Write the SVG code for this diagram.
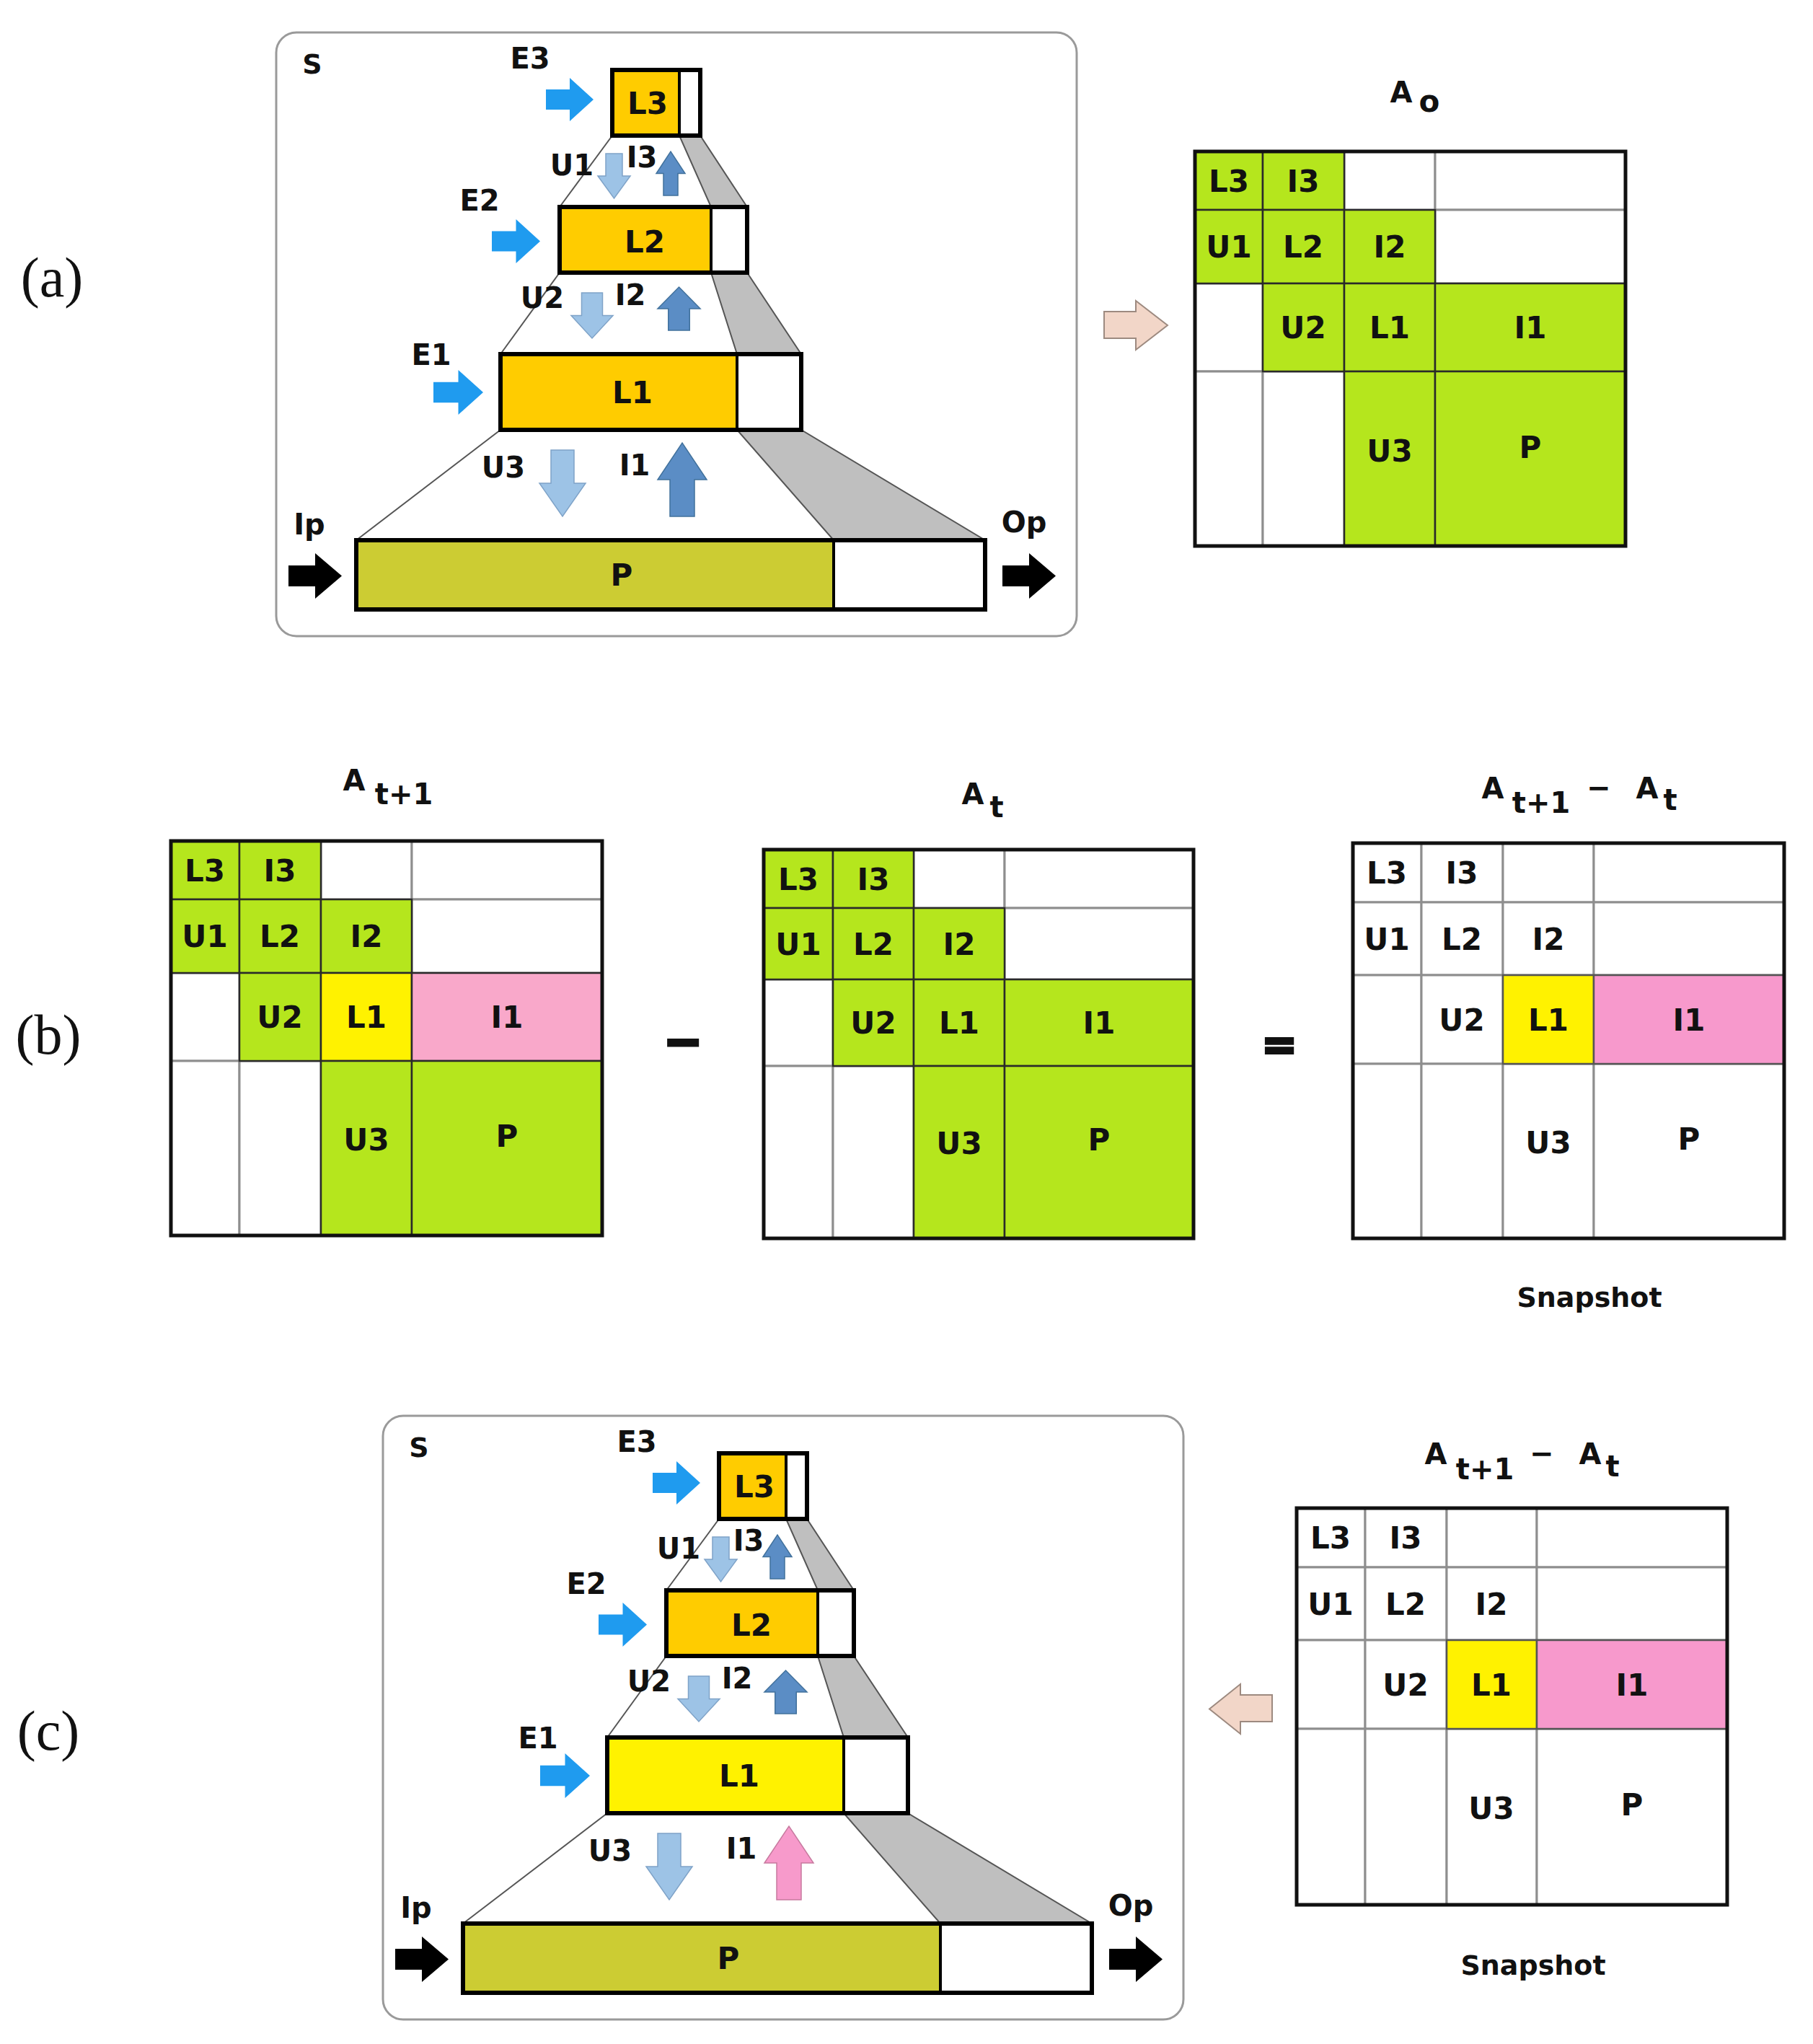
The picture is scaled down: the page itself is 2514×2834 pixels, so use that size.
<svg xmlns="http://www.w3.org/2000/svg" width="2514" height="2834" viewBox="0 0 2514 2834">
<style>
.t{font-family:"DejaVu Sans",Verdana,sans-serif;font-weight:bold;fill:#111;text-anchor:middle}
.s38{font-size:38px}
.s40{font-size:40px}
.s42{font-size:42px}
.s36{font-size:37px}
.pl{font-family:"Liberation Serif","Times New Roman",serif;font-size:78px;fill:#111;text-anchor:middle}
.frame{fill:#fff;stroke:#9a9a9a;stroke-width:3}
.band{fill:#bfbfbf;stroke:#555;stroke-width:2}
.edge{stroke:#555;stroke-width:2}
.gold{fill:#ffcc00}
.yel{fill:#fff200}
.olive{fill:#cccc33}
.wh{fill:#fff}
.box{fill:none;stroke:#000;stroke-width:6}
.div{stroke:#000;stroke-width:4}
.eA{fill:#1f9bef}
.bk{fill:#000}
.dn{fill:#9dc3e6;stroke:#7fa3c8;stroke-width:1.5}
.up{fill:#5b8dc5;stroke:#41719c;stroke-width:1.5}
.upk{fill:#f79acb;stroke:#c77a9f;stroke-width:1.5}
.beige{fill:#f2d6c8;stroke:#9d8a80;stroke-width:2}
.cw{fill:#fff;stroke:#8e8e8e;stroke-width:3}
.cg{fill:#b5e61d;stroke:#2a2a2a;stroke-width:2.5}
.cy{fill:#fff200;stroke:#2a2a2a;stroke-width:2.5}
.cp{fill:#f9a8ca;stroke:#2a2a2a;stroke-width:2.5}
.cp2{fill:#f799cc;stroke:#555;stroke-width:2.5}
.cy2{fill:#fff200;stroke:#555;stroke-width:2.5}
.outer{fill:none;stroke:#111;stroke-width:5}
</style>

<!-- Panel labels -->
<text class="pl" x="72" y="411">(a)</text>
<text class="pl" x="67" y="1461">(b)</text>
<text class="pl" x="67" y="2426">(c)</text>

<!-- ===== Panel (a) pyramid ===== -->
<g id="panel-a">
  <rect id="a-frame" class="frame" x="383" y="45" width="1110" height="837" rx="28"/>
  <text class="t s38" x="433" y="102">S</text>
  <polygon class="band" points="942,188 971,188 1036,287 986,287"/>
  <polygon class="band" points="986,378 1036,378 1111,491 1022,491"/>
  <polygon class="band" points="1022,596 1111,596 1366,749 1156,749"/>
  <line class="edge" x1="849" y1="188" x2="776" y2="287"/>
  <line class="edge" x1="776" y1="378" x2="694" y2="491"/>
  <line class="edge" x1="694" y1="596" x2="494" y2="749"/>
  <g id="a-L3">
    <rect class="gold" x="849" y="97" width="93" height="91"/>
    <rect class="wh" x="942" y="97" width="29" height="91"/>
    <line class="div" x1="942" y1="97" x2="942" y2="188"/>
    <rect class="box" x="849" y="97" width="122" height="91"/>
    <text class="t s42" x="898" y="158">L3</text>
  </g>
  <g id="a-L2">
    <rect class="gold" x="776" y="287" width="210" height="91"/>
    <rect class="wh" x="986" y="287" width="50" height="91"/>
    <line class="div" x1="986" y1="287" x2="986" y2="378"/>
    <rect class="box" x="776" y="287" width="260" height="91"/>
    <text class="t s42" x="894" y="350">L2</text>
  </g>
  <g id="a-L1">
    <rect class="gold" x="694" y="491" width="328" height="105"/>
    <rect class="wh" x="1022" y="491" width="89" height="105"/>
    <line class="div" x1="1022" y1="491" x2="1022" y2="596"/>
    <rect class="box" x="694" y="491" width="417" height="105"/>
    <text class="t s42" x="877" y="559">L1</text>
  </g>
  <g id="a-P">
    <rect class="olive" x="494" y="749" width="662" height="96"/>
    <rect class="wh" x="1156" y="749" width="210" height="96"/>
    <line class="div" x1="1156" y1="749" x2="1156" y2="845"/>
    <rect class="box" x="494" y="749" width="872" height="96"/>
    <text class="t s42" x="862" y="812">P</text>
  </g>
  <g id="a-labels" class="t s40">
    <text x="735" y="95">E3</text>
    <text x="665" y="292">E2</text>
    <text x="598" y="506">E1</text>
    <text x="793" y="243">U1</text>
    <text x="890" y="232">I3</text>
    <text x="752" y="427">U2</text>
    <text x="874" y="423">I2</text>
    <text x="698" y="662">U3</text>
    <text x="880" y="659">I1</text>
    <text x="429" y="741">Ip</text>
    <text x="1420" y="738">Op</text>
  </g>
</g>

<!-- ===== Panel (a) matrix A0 ===== -->
<g id="matrix-A0">
  <text class="t s40" x="1943" y="142">A</text>
  <text class="t s42" x="1982" y="155">o</text>
  <rect class="cw" x="1864" y="210" width="126" height="81"/>
  <rect class="cw" x="1990" y="210" width="264" height="81"/>
  <rect class="cw" x="1990" y="291" width="264" height="102"/>
  <rect class="cw" x="1657" y="393" width="94" height="122"/>
  <rect class="cw" x="1657" y="515" width="94" height="242"/>
  <rect class="cw" x="1751" y="515" width="113" height="242"/>
  <rect class="cg" x="1657" y="210" width="94" height="81"/>
  <rect class="cg" x="1751" y="210" width="113" height="81"/>
  <rect class="cg" x="1657" y="291" width="94" height="102"/>
  <rect class="cg" x="1751" y="291" width="113" height="102"/>
  <rect class="cg" x="1864" y="291" width="126" height="102"/>
  <rect class="cg" x="1751" y="393" width="113" height="122"/>
  <rect class="cg" x="1864" y="393" width="126" height="122"/>
  <rect class="cg" x="1990" y="393" width="264" height="122"/>
  <rect class="cg" x="1864" y="515" width="126" height="242"/>
  <rect class="cg" x="1990" y="515" width="264" height="242"/>
  <rect class="outer" x="1657" y="210" width="597" height="547"/>
  <g class="t s42">
    <text x="1704" y="266">L3</text><text x="1807" y="266">I3</text>
    <text x="1704" y="357">U1</text><text x="1807" y="357">L2</text><text x="1927" y="357">I2</text>
    <text x="1807" y="469">U2</text><text x="1927" y="469">L1</text><text x="2122" y="469">I1</text>
    <text x="1927" y="640">U3</text><text x="2122" y="635">P</text>
  </g>
</g>

<!-- ===== Panel (b) ===== -->
<g id="matrix-At1">
  <text class="t s40" x="491" y="1096">A</text>
  <text class="t s40" x="560" y="1115">t+1</text>
  <rect class="cw" x="445" y="1166" width="126" height="81"/>
  <rect class="cw" x="571" y="1166" width="264" height="81"/>
  <rect class="cw" x="571" y="1247" width="264" height="102"/>
  <rect class="cw" x="237" y="1349" width="95" height="122"/>
  <rect class="cw" x="237" y="1471" width="95" height="242"/>
  <rect class="cw" x="332" y="1471" width="113" height="242"/>
  <rect class="cg" x="237" y="1166" width="95" height="81"/>
  <rect class="cg" x="332" y="1166" width="113" height="81"/>
  <rect class="cg" x="237" y="1247" width="95" height="102"/>
  <rect class="cg" x="332" y="1247" width="113" height="102"/>
  <rect class="cg" x="445" y="1247" width="126" height="102"/>
  <rect class="cg" x="332" y="1349" width="113" height="122"/>
  <rect class="cy" x="445" y="1349" width="126" height="122"/>
  <rect class="cp" x="571" y="1349" width="264" height="122"/>
  <rect class="cg" x="445" y="1471" width="126" height="242"/>
  <rect class="cg" x="571" y="1471" width="264" height="242"/>
  <rect class="outer" x="237" y="1166" width="598" height="547"/>
  <g class="t s42">
    <text x="284" y="1222">L3</text><text x="388" y="1222">I3</text>
    <text x="284" y="1313">U1</text><text x="388" y="1313">L2</text><text x="508" y="1313">I2</text>
    <text x="388" y="1425">U2</text><text x="508" y="1425">L1</text><text x="703" y="1425">I1</text>
    <text x="508" y="1595">U3</text><text x="703" y="1590">P</text>
  </g>
</g>

<text id="op-minus" class="t" x="947" y="1466" style="font-size:64px;stroke:#111;stroke-width:4">−</text>

<g id="matrix-At">
  <text class="t s40" x="1349" y="1115">A</text>
  <text class="t s40" x="1382" y="1133">t</text>
  <rect class="cw" x="1267" y="1178" width="126" height="81"/>
  <rect class="cw" x="1393" y="1178" width="262" height="81"/>
  <rect class="cw" x="1393" y="1259" width="262" height="99"/>
  <rect class="cw" x="1059" y="1358" width="96" height="120"/>
  <rect class="cw" x="1059" y="1478" width="96" height="239"/>
  <rect class="cw" x="1155" y="1478" width="112" height="239"/>
  <rect class="cg" x="1059" y="1178" width="96" height="81"/>
  <rect class="cg" x="1155" y="1178" width="112" height="81"/>
  <rect class="cg" x="1059" y="1259" width="96" height="99"/>
  <rect class="cg" x="1155" y="1259" width="112" height="99"/>
  <rect class="cg" x="1267" y="1259" width="126" height="99"/>
  <rect class="cg" x="1155" y="1358" width="112" height="120"/>
  <rect class="cg" x="1267" y="1358" width="126" height="120"/>
  <rect class="cg" x="1393" y="1358" width="262" height="120"/>
  <rect class="cg" x="1267" y="1478" width="126" height="239"/>
  <rect class="cg" x="1393" y="1478" width="262" height="239"/>
  <rect class="outer" x="1059" y="1178" width="596" height="539"/>
  <g class="t s42">
    <text x="1107" y="1234">L3</text><text x="1211" y="1234">I3</text>
    <text x="1107" y="1324">U1</text><text x="1211" y="1324">L2</text><text x="1330" y="1324">I2</text>
    <text x="1211" y="1433">U2</text><text x="1330" y="1433">L1</text><text x="1524" y="1433">I1</text>
    <text x="1330" y="1600">U3</text><text x="1524" y="1595">P</text>
  </g>
</g>

<text id="op-equals" class="t" x="1774" y="1468" style="font-size:58px;stroke:#111;stroke-width:4">=</text>

<g id="matrix-snap-b">
  <text class="t s40" x="2070" y="1107">A</text>
  <text class="t s40" x="2137" y="1127">t+1</text>
  <text class="t s40" x="2217" y="1106">−</text>
  <text class="t s40" x="2284" y="1107">A</text>
  <text class="t s40" x="2316" y="1123">t</text>
  <rect class="cw" x="1876" y="1169" width="95" height="82"/>
  <rect class="cw" x="1971" y="1169" width="113" height="82"/>
  <rect class="cw" x="2084" y="1169" width="126" height="82"/>
  <rect class="cw" x="2210" y="1169" width="264" height="82"/>
  <rect class="cw" x="1876" y="1251" width="95" height="101"/>
  <rect class="cw" x="1971" y="1251" width="113" height="101"/>
  <rect class="cw" x="2084" y="1251" width="126" height="101"/>
  <rect class="cw" x="2210" y="1251" width="264" height="101"/>
  <rect class="cw" x="1876" y="1352" width="95" height="123"/>
  <rect class="cw" x="1971" y="1352" width="113" height="123"/>
  <rect class="cw" x="1876" y="1475" width="95" height="242"/>
  <rect class="cw" x="1971" y="1475" width="113" height="242"/>
  <rect class="cw" x="2084" y="1475" width="126" height="242"/>
  <rect class="cw" x="2210" y="1475" width="264" height="242"/>
  <rect class="cy2" x="2084" y="1352" width="126" height="123"/>
  <rect class="cp2" x="2210" y="1352" width="264" height="123"/>
  <rect class="outer" x="1876" y="1169" width="598" height="548"/>
  <g class="t s42">
    <text x="1923" y="1225">L3</text><text x="2027" y="1225">I3</text>
    <text x="1923" y="1317">U1</text><text x="2027" y="1317">L2</text><text x="2147" y="1317">I2</text>
    <text x="2027" y="1429">U2</text><text x="2147" y="1429">L1</text><text x="2342" y="1429">I1</text>
    <text x="2147" y="1599">U3</text><text x="2342" y="1594">P</text>
  </g>
  <text class="t s38" x="2204" y="1812">Snapshot</text>
</g>

<!-- ===== Panel (c) pyramid ===== -->
<g id="panel-c" transform="translate(148,1918)">
  <rect id="c-frame" class="frame" x="383" y="45" width="1110" height="837" rx="28"/>
  <text class="t s38" x="433" y="102">S</text>
  <polygon class="band" points="942,188 971,188 1036,287 986,287"/>
  <polygon class="band" points="986,378 1036,378 1111,491 1022,491"/>
  <polygon class="band" points="1022,596 1111,596 1366,749 1156,749"/>
  <line class="edge" x1="849" y1="188" x2="776" y2="287"/>
  <line class="edge" x1="776" y1="378" x2="694" y2="491"/>
  <line class="edge" x1="694" y1="596" x2="494" y2="749"/>
  <g id="c-L3">
    <rect class="gold" x="849" y="97" width="93" height="91"/>
    <rect class="wh" x="942" y="97" width="29" height="91"/>
    <line class="div" x1="942" y1="97" x2="942" y2="188"/>
    <rect class="box" x="849" y="97" width="122" height="91"/>
    <text class="t s42" x="898" y="158">L3</text>
  </g>
  <g id="c-L2">
    <rect class="gold" x="776" y="287" width="210" height="91"/>
    <rect class="wh" x="986" y="287" width="50" height="91"/>
    <line class="div" x1="986" y1="287" x2="986" y2="378"/>
    <rect class="box" x="776" y="287" width="260" height="91"/>
    <text class="t s42" x="894" y="350">L2</text>
  </g>
  <g id="c-L1">
    <rect class="yel" x="694" y="491" width="328" height="105"/>
    <rect class="wh" x="1022" y="491" width="89" height="105"/>
    <line class="div" x1="1022" y1="491" x2="1022" y2="596"/>
    <rect class="box" x="694" y="491" width="417" height="105"/>
    <text class="t s42" x="877" y="559">L1</text>
  </g>
  <g id="c-P">
    <rect class="olive" x="494" y="749" width="662" height="96"/>
    <rect class="wh" x="1156" y="749" width="210" height="96"/>
    <line class="div" x1="1156" y1="749" x2="1156" y2="845"/>
    <rect class="box" x="494" y="749" width="872" height="96"/>
    <text class="t s42" x="862" y="812">P</text>
  </g>
  <g id="c-labels" class="t s40">
    <text x="735" y="95">E3</text>
    <text x="665" y="292">E2</text>
    <text x="598" y="506">E1</text>
    <text x="793" y="243">U1</text>
    <text x="890" y="232">I3</text>
    <text x="752" y="427">U2</text>
    <text x="874" y="423">I2</text>
    <text x="698" y="662">U3</text>
    <text x="880" y="659">I1</text>
    <text x="429" y="741">Ip</text>
    <text x="1420" y="738">Op</text>
  </g>
</g>

<g id="matrix-snap-c">
  <text class="t s40" x="1991" y="2030">A</text>
  <text class="t s40" x="2059" y="2051">t+1</text>
  <text class="t s40" x="2138" y="2029">−</text>
  <text class="t s40" x="2205" y="2030">A</text>
  <text class="t s40" x="2236" y="2047">t</text>
  <rect class="cw" x="1798" y="2091" width="95" height="82"/>
  <rect class="cw" x="1893" y="2091" width="113" height="82"/>
  <rect class="cw" x="2006" y="2091" width="125" height="82"/>
  <rect class="cw" x="2131" y="2091" width="264" height="82"/>
  <rect class="cw" x="1798" y="2173" width="95" height="101"/>
  <rect class="cw" x="1893" y="2173" width="113" height="101"/>
  <rect class="cw" x="2006" y="2173" width="125" height="101"/>
  <rect class="cw" x="2131" y="2173" width="264" height="101"/>
  <rect class="cw" x="1798" y="2274" width="95" height="123"/>
  <rect class="cw" x="1893" y="2274" width="113" height="123"/>
  <rect class="cw" x="1798" y="2397" width="95" height="244"/>
  <rect class="cw" x="1893" y="2397" width="113" height="244"/>
  <rect class="cw" x="2006" y="2397" width="125" height="244"/>
  <rect class="cw" x="2131" y="2397" width="264" height="244"/>
  <rect class="cy2" x="2006" y="2274" width="125" height="123"/>
  <rect class="cp2" x="2131" y="2274" width="264" height="123"/>
  <rect class="outer" x="1798" y="2091" width="597" height="550"/>
  <g class="t s42">
    <text x="1845" y="2147">L3</text><text x="1949" y="2147">I3</text>
    <text x="1845" y="2239">U1</text><text x="1949" y="2239">L2</text><text x="2068" y="2239">I2</text>
    <text x="1949" y="2351">U2</text><text x="2068" y="2351">L1</text><text x="2263" y="2351">I1</text>
    <text x="2068" y="2522">U3</text><text x="2263" y="2517">P</text>
  </g>
  <text class="t s38" x="2126" y="2738">Snapshot</text>
</g>

<!-- ===== Connectors (block arrows) ===== -->
<g id="connectors">
  <g id="arrows-a">
    <path class="eA" d="M757,124 H790 V108 L823,138 L790,168 V152 H757 Z"/>
    <path class="eA" d="M682,320.5 H715.5 V304 L749,334.5 L715.5,365 V348.5 H682 Z"/>
    <path class="eA" d="M601,529.7 H635.5 V513 L670,544 L635.5,575 V558.3 H601 Z"/>
    <path class="dn" d="M840,213 H863 V244 H874 L851.5,275 L829,244 H840 Z"/>
    <path class="up" d="M920,271 H940 V240.5 H950 L930,210 L910,240.5 H920 Z"/>
    <path class="dn" d="M806.5,406 H835.5 V437.5 H850 L821,469 L792,437.5 H806.5 Z"/>
    <path class="up" d="M926.75,458 H956.25 V428 H971 L941.5,398 L912,428 H926.75 Z"/>
    <path class="dn" d="M764,624 H796 V670 H812 L780,716 L748,670 H764 Z"/>
    <path class="up" d="M929,716 H963 V665 H980 L946,614 L912,665 H929 Z"/>
    <path class="bk" d="M400,784 H437 V767 L474,798.5 L437,830 V813 H400 Z"/>
    <path class="bk" d="M1390,784 H1427 V767 L1464,798.5 L1427,830 V813 H1390 Z"/>
  </g>
  <path id="arrow-a-to-A0" class="beige" d="M1531,432 H1575 V417 L1619,451 L1575,485 V469 H1531 Z"/>
  <g id="arrows-c" transform="translate(148,1918)">
    <path class="eA" d="M757,124 H790 V108 L823,138 L790,168 V152 H757 Z"/>
    <path class="eA" d="M682,320.5 H715.5 V304 L749,334.5 L715.5,365 V348.5 H682 Z"/>
    <path class="eA" d="M601,529.7 H635.5 V513 L670,544 L635.5,575 V558.3 H601 Z"/>
    <path class="dn" d="M840,213 H863 V244 H874 L851.5,275 L829,244 H840 Z"/>
    <path class="up" d="M920,271 H940 V240.5 H950 L930,210 L910,240.5 H920 Z"/>
    <path class="dn" d="M806.5,406 H835.5 V437.5 H850 L821,469 L792,437.5 H806.5 Z"/>
    <path class="up" d="M926.75,458 H956.25 V428 H971 L941.5,398 L912,428 H926.75 Z"/>
    <path class="dn" d="M764,624 H796 V670 H812 L780,716 L748,670 H764 Z"/>
    <path class="upk" d="M929,716 H963 V665 H980 L946,614 L912,665 H929 Z"/>
    <path class="bk" d="M400,784 H437 V767 L474,798.5 L437,830 V813 H400 Z"/>
    <path class="bk" d="M1390,784 H1427 V767 L1464,798.5 L1427,830 V813 H1390 Z"/>
  </g>
  <path id="arrow-snap-to-c" class="beige" d="M1764,2350 H1720 V2335 L1677,2369.5 L1720,2404 V2387 H1764 Z"/>
</g>
</svg>
